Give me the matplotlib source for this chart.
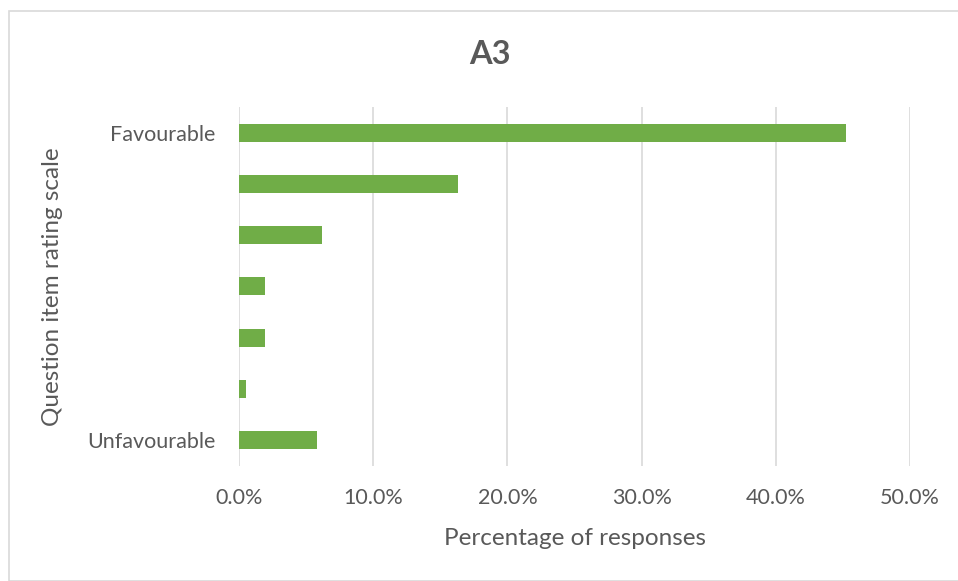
import matplotlib.pyplot as plt
from matplotlib.patches import Rectangle
from matplotlib.ticker import FuncFormatter

# rating scale, top (favourable) to bottom (unfavourable)
levels = ["Favourable", "", "", "", "", "", "Unfavourable"]
pct = [45.2, 16.3, 6.2, 1.9, 1.9, 0.5, 5.8]
ticks = [0, 10, 20, 30, 40, 50]

txt = "#595959"
plt.rcParams['font.family'] = ['Lato', 'DejaVu Sans']

fig = plt.figure(figsize=(9.58, 5.81), dpi=100)
ax = fig.add_axes([0.2495, 0.198, 0.7005, 0.618])

# light chart border like the Excel chart area
fig.patches.append(Rectangle((9 / 958, 0), 1, 1 - 11 / 581, transform=fig.transFigure,
                             fill=False, edgecolor="#d9d9d9", linewidth=1.2))

ypos = list(range(len(levels)))
ax.barh(ypos, pct, height=0.35, color="#70ad47", zorder=3)
ax.set_ylim(len(levels) - 0.5, -0.5)
ax.set_yticks(ypos)
ax.set_yticklabels(levels)

ax.set_xlim(0, 50)
ax.set_xticks(ticks)
ax.xaxis.set_major_formatter(FuncFormatter(lambda v, p: f"{v:.1f}%"))
ax.grid(axis="x", color="#d9d9d9", linewidth=1.2, zorder=0)

for s in ax.spines.values():
    s.set_visible(False)
ax.tick_params(length=0, colors=txt, labelsize=15.5)
ax.tick_params(axis="x", pad=16)
ax.tick_params(axis="y", pad=17)

ax.set_xlabel("Percentage of responses", color=txt, fontsize=17.5, labelpad=14)
ax.set_ylabel("Question item rating scale", color=txt, fontsize=17.5, labelpad=17)
fig.text(490 / 958, 1 - 54 / 581, "A3", ha="center", va="center",
         fontsize=23.5, fontweight="bold", color=txt)

fig.savefig("out.png", dpi=100)
